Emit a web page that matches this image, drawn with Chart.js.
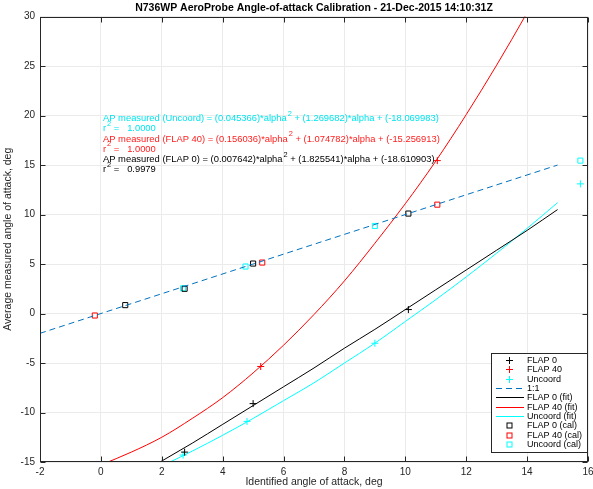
<!DOCTYPE html>
<html lang="en">
<head>
<meta charset="UTF-8">
<title>N736WP AeroProbe Angle-of-attack Calibration</title>
<script src="https://cdn.jsdelivr.net/npm/chart.js"></script>
<style>
    html, body { margin: 0; padding: 0; background: #fff; }
    #wrap { width: 593px; height: 489px; }
</style>
</head>
<body>
<div id="wrap"><canvas id="aoaChart" width="593" height="489"></canvas></div>
<script>
// flight points: identified AoA (x) vs average measured AoA (y), deg
const flap0X = [2.75, 5.0, 10.1];
const flap0Y = [-14.0, -9.1, 0.4];
const flap40X = [5.25, 11.05];
const flap40Y = [-5.35, 15.45];
const uncoordX = [2.7, 4.8, 9.0, 15.75];
const uncoordY = [-14.3, -10.9, -3.0, 13.1];

// calibrated points
const flap0CalX = [0.8, 2.75, 5.0, 10.1];
const flap0CalY = [0.85, 2.5, 5.05, 10.1];
const flap40CalX = [-0.2, 5.3, 11.05];
const flap40CalY = [-0.2, 5.15, 11.0];
const uncoordCalX = [2.7, 4.75, 9.0, 15.75];
const uncoordCalY = [2.55, 4.75, 8.85, 15.45];

// fit curves
const fitX = [0, 1, 2, 3, 4, 5, 6, 7, 8, 9, 10, 11, 12, 13, 14, 15];
const flap0FitY = [-18.6, -16.8, -14.9, -13.1, -11.2, -9.3, -7.4, -5.5, -3.5, -1.6, 0.4, 2.4, 4.4, 6.4, 8.4, 10.5];
const flap40FitY = [-15.3, -14.0, -12.5, -10.6, -8.5, -6.0, -3.2, -0.1, 3.3, 7.1, 11.1, 15.4, 20.1, 25.1, 30.4, 36.0];
const uncoordFitY = [-18.1, -16.8, -15.4, -13.9, -12.3, -10.6, -8.8, -7.0, -5.0, -3.0, -0.8, 1.4, 3.7, 6.1, 8.6, 11.2];

// 1:1 reference line
const oneX = [-2, 15];
const oneY = [-2, 15];

// equation text shown on the plot
const eqColors = ['#00e5ee', '#ff2020', '#000000'];
const eqText = [
    ['AP measured (Uncoord) = (0.045366)*alpha', ' + (1.269682)*alpha + (-18.069983)', '1.0000'],
    ['AP measured (FLAP 40) = (0.156036)*alpha', ' + (1.074782)*alpha + (-15.256913)', '1.0000'],
    ['AP measured (FLAP 0) = (0.007642)*alpha', ' + (1.825541)*alpha + (-18.610903)', '0.9979']
];

const FONT = '"Liberation Sans", Arial, sans-serif';
const CYAN = '#00ffff';
const RED = '#ff0000';
const BLUE = '#0072bd';

function pts(xs, ys) {
    return xs.map((x, i) => ({ x: x, y: ys[i] }));
}

function marks(label, xs, ys, color, style) {
    return {
        label: label,
        data: pts(xs, ys),
        showLine: false,
        pointStyle: style,
        pointRadius: style === 'rect' ? 3.6 : 3.5,
        pointBorderWidth: 1,
        borderColor: color,
        pointBorderColor: color,
        pointBackgroundColor: 'rgba(0,0,0,0)',
        backgroundColor: 'rgba(0,0,0,0)',
        legendColor: color
    };
}

function curve(label, xs, ys, color, dash) {
    return {
        label: label,
        data: pts(xs, ys),
        showLine: true,
        pointRadius: 0,
        borderColor: color,
        borderWidth: 1,
        borderDash: dash || [],
        cubicInterpolationMode: 'monotone',
        fill: false,
        legendColor: color
    };
}

const datasets = [
    marks('FLAP 0', flap0X, flap0Y, '#000000', 'cross'),
    marks('FLAP 40', flap40X, flap40Y, RED, 'cross'),
    marks('Uncoord', uncoordX, uncoordY, CYAN, 'cross'),
    curve('1:1', oneX, oneY, BLUE, [6, 4]),
    curve('FLAP 0 (fit)', fitX, flap0FitY, '#000000'),
    curve('FLAP 40 (fit)', fitX, flap40FitY, RED),
    curve('Uncoord (fit)', fitX, uncoordFitY, CYAN),
    marks('FLAP 0 (cal)', flap0CalX, flap0CalY, '#000000', 'rect'),
    marks('FLAP 40 (cal)', flap40CalX, flap40CalY, RED, 'rect'),
    marks('Uncoord (cal)', uncoordCalX, uncoordCalY, CYAN, 'rect')
];

// text with a superscript "2"
function supText(ctx, x, y, pre, post, size) {
    ctx.font = size + 'px ' + FONT;
    ctx.fillText(pre, x, y);
    let w = ctx.measureText(pre).width;
    ctx.font = (size - 2) + 'px ' + FONT;
    ctx.fillText('2', x + w + 1, y - 5);
    w += ctx.measureText('2').width + 1;
    ctx.font = size + 'px ' + FONT;
    ctx.fillText(post, x + w, y);
}

const overlay = {
    id: 'overlay',
    afterDraw(chart) {
        const ctx = chart.ctx;
        const a = chart.chartArea;
        const xs = chart.scales.x, ys = chart.scales.y;
        ctx.save();

        // frame and inward ticks
        ctx.strokeStyle = '#262626';
        ctx.lineWidth = 1;
        const L = Math.round(a.left) + 0.5, R = Math.round(a.right) - 0.5;
        const T = Math.round(a.top) + 0.5, B = Math.round(a.bottom) - 0.5;
        ctx.strokeRect(L, T, R - L, B - T);
        ctx.beginPath();
        xs.ticks.forEach(t => {
            const px = Math.round(xs.getPixelForValue(t.value)) + 0.5;
            ctx.moveTo(px, B); ctx.lineTo(px, B - 5);
            ctx.moveTo(px, T); ctx.lineTo(px, T + 5);
        });
        ys.ticks.forEach(t => {
            const py = Math.round(ys.getPixelForValue(t.value)) + 0.5;
            ctx.moveTo(L, py); ctx.lineTo(L + 5, py);
            ctx.moveTo(R, py); ctx.lineTo(R - 5, py);
        });
        ctx.stroke();

        // fit equations
        ctx.textBaseline = 'middle';
        ctx.textAlign = 'left';
        eqText.forEach((e, i) => {
            const y0 = 118.5 + i * 20.5;
            ctx.fillStyle = eqColors[i];
            supText(ctx, 103, y0, e[0], e[1], 9.4);
            supText(ctx, 103, y0 + 10, 'r', ' =   ' + e[2], 9.4);
        });

        // legend
        const bx = 491, by = 353, bw = 96, bh = 99;
        ctx.fillStyle = '#ffffff';
        ctx.fillRect(bx, by, bw, bh);
        ctx.strokeStyle = '#262626';
        ctx.strokeRect(bx + 0.5, by + 0.5, bw, bh);
        chart.data.datasets.forEach((ds, i) => {
            const cy = Math.round(360 + i * 9.35) + 0.5;
            const cx = 509.5;
            ctx.strokeStyle = ds.legendColor;
            ctx.lineWidth = 1;
            if (ds.showLine) {
                ctx.setLineDash(ds.borderDash);
                ctx.beginPath();
                ctx.moveTo(496, cy); ctx.lineTo(524, cy);
                ctx.stroke();
                ctx.setLineDash([]);
            } else if (ds.pointStyle === 'cross') {
                ctx.beginPath();
                ctx.moveTo(cx - 3.5, cy); ctx.lineTo(cx + 3.5, cy);
                ctx.moveTo(cx, cy - 3.5); ctx.lineTo(cx, cy + 3.5);
                ctx.stroke();
            } else {
                ctx.strokeRect(cx - 2.5, cy - 2.5, 5, 5);
            }
            ctx.fillStyle = '#000000';
            ctx.font = '9px ' + FONT;
            ctx.fillText(ds.label, 527, cy);
        });
        ctx.restore();
    }
};

new Chart(document.getElementById('aoaChart'), {
    type: 'scatter',
    data: { datasets: datasets },
    plugins: [overlay],
    options: {
        responsive: false,
        animation: false,
        devicePixelRatio: 1,
        layout: { padding: { top: 0, right: 2, bottom: 0, left: 0 } },
        plugins: {
            legend: { display: false },
            tooltip: { enabled: false },
            title: {
                display: true,
                fullSize: false,
                text: 'N736WP AeroProbe Angle-of-attack Calibration - 21-Dec-2015 14:10:31Z',
                color: '#000000',
                font: { family: FONT, size: 10.5, weight: 'bold' },
                padding: { top: 2, bottom: 2 }
            }
        },
        scales: {
            x: {
                type: 'linear',
                min: -2,
                max: 16,
                ticks: {
                    stepSize: 2,
                    padding: 4,
                    color: '#262626',
                    font: { family: FONT, size: 10 },
                    maxRotation: 0
                },
                grid: { color: '#ebebeb', drawTicks: false },
                border: { display: false },
                title: {
                    display: true,
                    text: 'Identified angle of attack, deg',
                    color: '#262626',
                    font: { family: FONT, size: 10.5 },
                    padding: { top: 0, bottom: 1 }
                },
                afterFit(scale) {
                    scale.height = 27;
                    scale.paddingLeft = 0;
                    scale.paddingRight = 0;
                }
            },
            y: {
                type: 'linear',
                min: -15,
                max: 30,
                ticks: {
                    stepSize: 5,
                    padding: 5,
                    color: '#262626',
                    font: { family: FONT, size: 10 }
                },
                grid: { color: '#ebebeb', drawTicks: false },
                border: { display: false },
                title: {
                    display: true,
                    text: 'Average measured angle of attack, deg',
                    color: '#262626',
                    font: { family: FONT, size: 10.5 },
                    padding: { top: 2, bottom: 0 }
                },
                afterFit(scale) {
                    scale.width = 40;
                    scale.paddingTop = 0;
                    scale.paddingBottom = 0;
                }
            }
        }
    }
});
</script>
</body>
</html>
